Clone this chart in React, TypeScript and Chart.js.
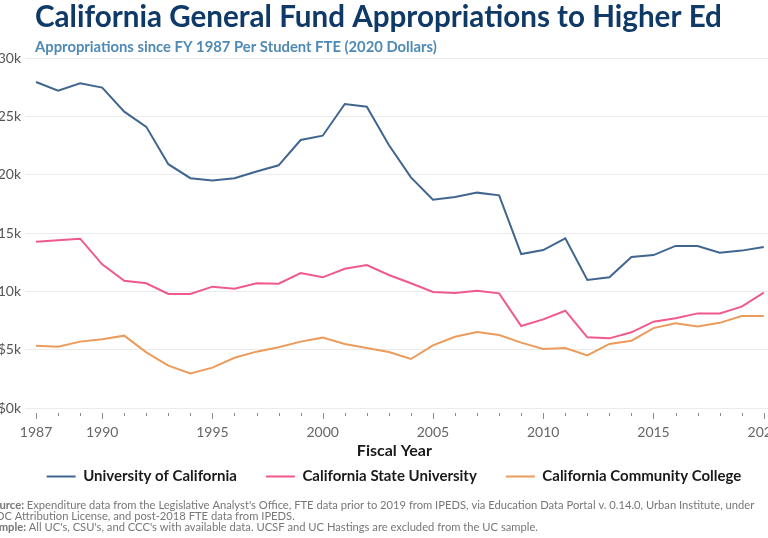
import { useEffect, useRef } from "react";
import { Chart, registerables } from "chart.js";

Chart.register(...registerables);

const years = [1987, 1988, 1989, 1990, 1991, 1992, 1993, 1994, 1995, 1996, 1997, 1998, 1999, 2000, 2001, 2002, 2003, 2004, 2005, 2006, 2007, 2008, 2009, 2010, 2011, 2012, 2013, 2014, 2015, 2016, 2017, 2018, 2019, 2020];

const ucValues = [27940, 27200, 27830, 27460, 25400, 24100, 20900, 19700, 19500, 19690, 20270, 20800, 22970, 23340, 26060, 25830, 22540, 19770, 17860, 18090, 18460, 18230, 13200, 13540, 14540, 10970, 11200, 12940, 13110, 13890, 13890, 13310, 13490, 13800];

const csuValues = [14260, 14370, 14510, 12310, 10910, 10690, 9770, 9770, 10400, 10230, 10690, 10660, 11570, 11200, 11940, 12260, 11400, 10690, 9940, 9860, 10060, 9830, 7030, 7600, 8340, 6060, 5970, 6490, 7400, 7690, 8110, 8110, 8690, 9890];

const cccValues = [5340, 5260, 5690, 5890, 6200, 4770, 3630, 2970, 3460, 4310, 4830, 5200, 5690, 6030, 5490, 5140, 4800, 4200, 5370, 6110, 6510, 6260, 5600, 5060, 5140, 4510, 5490, 5770, 6850, 7260, 6980, 7300, 7890, 7890];

const seriesNames = ["University of California", "California State University", "California Community College"];
const seriesColors = ["#406690", "#f05a8a", "#eb9b5b"];

const xTickYears = [1987, 1990, 1995, 2000, 2005, 2010, 2015, 2020];
const yTickValues = [0, 5000, 10000, 15000, 20000, 25000, 30000];

const titleText = "California General Fund Appropriations to Higher Ed";
const subtitleText = "Appropriations since FY 1987 Per Student FTE (2020 Dollars)";
const xAxisTitle = "Fiscal Year";
const footnoteLines = [
  { bold: "Source: ", text: "Expenditure data from the Legislative Analyst's Office, FTE data prior to 2019 from IPEDS, via Education Data Portal v. 0.14.0, Urban Institute, under" },
  { bold: "", text: "ODC Attribution License, and post-2018 FTE data from IPEDS." },
  { bold: "Sample: ", text: "All UC's, CSU's, and CCC's with available data. UCSF and UC Hastings are excluded from the UC sample." },
];

const CANVAS_W = 808;
const CANVAS_H = 538;
const SHIFT = 20;

const textPlugin = {
  id: "texts",
  afterDraw(chart: any) {
    const ctx = chart.ctx;
    ctx.save();
    ctx.textAlign = "left";
    ctx.textBaseline = "alphabetic";
    ctx.fillStyle = "#0f3a68";
    ctx.font = "bold 29.6px Lato";
    ctx.fillText(titleText, 55, 27);
    ctx.fillStyle = "#4f8ab5";
    ctx.font = "bold 14.8px Lato";
    ctx.fillText(subtitleText, 55, 52);

    const xs = chart.scales.x;
    const cx = (chart.chartArea.left + xs.getPixelForValue(2020)) / 2;
    ctx.textAlign = "center";
    ctx.fillStyle = "#1a1a1a";
    ctx.font = "bold 16px Lato";
    ctx.fillText(xAxisTitle, cx, 456);

    ctx.textAlign = "left";
    ctx.fillStyle = "#777777";
    footnoteLines.forEach((ln, i) => {
      let x = 7;
      const y = 509 + i * 11;
      if (ln.bold) {
        ctx.font = "bold 11.2px Lato";
        ctx.fillText(ln.bold, x, y);
        x += ctx.measureText(ln.bold).width;
      }
      ctx.font = "11.2px Lato";
      ctx.fillText(ln.text, x, y);
    });

    // x-axis tick marks (major and minor)
    const bottom = chart.chartArea.bottom;
    ctx.strokeStyle = "#8a8a8a";
    ctx.lineWidth = 1;
    years.forEach((yr) => {
      const px = Math.round(xs.getPixelForValue(yr)) + 0.5;
      const major = xTickYears.includes(yr);
      ctx.beginPath();
      ctx.moveTo(px, bottom + 5);
      ctx.lineTo(px, bottom + (major ? 11 : 8));
      ctx.stroke();
    });
    ctx.restore();
  },
};

export default function App() {
  const ref = useRef<HTMLCanvasElement | null>(null);
  useEffect(() => {
    if (!ref.current) return;
    const values = [ucValues, csuValues, cccValues];
    const chart = new Chart(ref.current, {
      type: "line",
      data: {
        datasets: values.map((vals, i) => ({
          label: seriesNames[i],
          data: years.map((y, j) => ({ x: y, y: vals[j] })),
          borderColor: seriesColors[i],
          backgroundColor: seriesColors[i],
          borderWidth: 2,
          pointRadius: 0,
          tension: 0,
          fill: false,
        })),
      },
      options: {
        responsive: false,
        animation: false,
        devicePixelRatio: 1,
        layout: { padding: { top: 58, left: 20, right: 0, bottom: 44 } },
        scales: {
          x: {
            type: "linear",
            min: 1986.5,
            max: 2021,
            grid: { display: false },
            border: { display: false },
            afterBuildTicks: (s: any) => {
              s.ticks = xTickYears.map((v) => ({ value: v }));
            },
            afterFit: (s: any) => {
              s.height = 32;
            },
            ticks: {
              autoSkip: false,
              maxRotation: 0,
              padding: 8,
              color: "#666666",
              font: { family: "Lato", size: 14 },
              callback: (v: any) => String(v),
            },
          },
          y: {
            min: 0,
            max: 30000,
            afterBuildTicks: (s: any) => {
              s.ticks = yTickValues.map((v) => ({ value: v }));
            },
            afterFit: (s: any) => {
              s.width = 25;
            },
            grid: { color: "#ebebeb", drawTicks: false, lineWidth: 1 },
            border: { display: false },
            ticks: {
              padding: 4,
              color: "#555555",
              font: { family: "Lato", size: 14 },
              callback: (v: any) => "$" + Number(v) / 1000 + "k",
            },
          },
        },
        plugins: {
          legend: {
            position: "bottom",
            labels: {
              usePointStyle: true,
              pointStyle: "line",
              pointStyleWidth: 29,
              padding: 29,
              color: "#1a1a1a",
              font: { family: "Lato", size: 15, weight: "bold" },
            },
          },
          tooltip: { enabled: false },
        },
      },
      plugins: [textPlugin],
    });
    return () => chart.destroy();
  }, []);

  return (
    <div style={{ position: "absolute", left: 0, top: 0, width: 768, height: 538, overflow: "hidden", background: "#fff" }}>
      <canvas ref={ref} width={CANVAS_W} height={CANVAS_H} style={{ position: "absolute", left: -SHIFT, top: 0, width: CANVAS_W, height: CANVAS_H }} />
    </div>
  );
}
